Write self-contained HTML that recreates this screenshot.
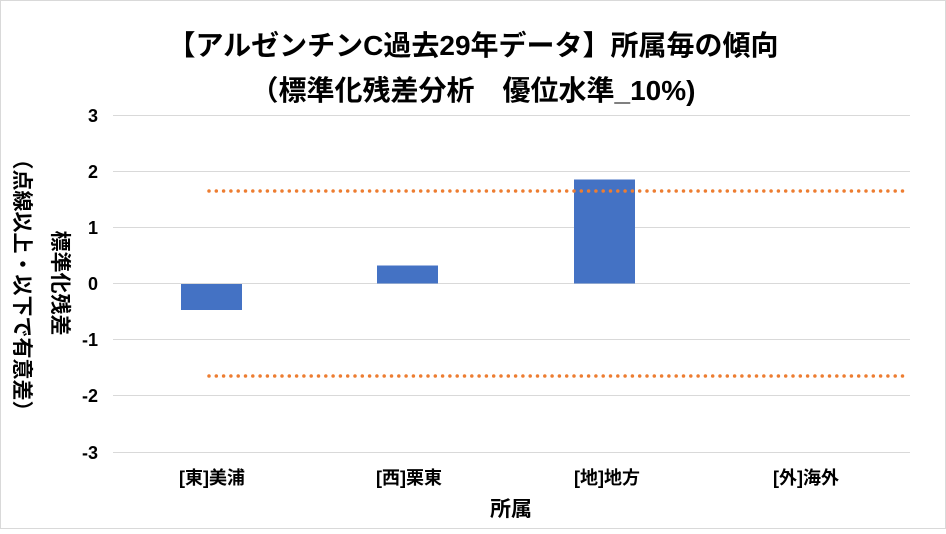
<!DOCTYPE html>
<html><head><meta charset="utf-8"><style>
body{margin:0;background:#fff}
svg text{font-family:"Liberation Sans","Noto Sans CJK JP",sans-serif;font-weight:bold;fill:#000}
</style></head><body>
<svg width="946" height="529" xmlns="http://www.w3.org/2000/svg">
<rect x="0.5" y="0.5" width="945" height="528" fill="#fff" stroke="#d9d9d9"/>
<text x="473" y="55" font-size="28" text-anchor="middle">【アルゼンチンC過去29年データ】所属毎の傾向</text>
<text x="473" y="100" font-size="28" text-anchor="middle">（標準化残差分析　優位水準_10%)</text>
<g stroke="#d9d9d9" stroke-width="1">
<line x1="113" x2="910" y1="115.5" y2="115.5"/>
<line x1="113" x2="910" y1="171.5" y2="171.5"/>
<line x1="113" x2="910" y1="227.5" y2="227.5"/>
<line x1="113" x2="910" y1="283.5" y2="283.5"/>
<line x1="113" x2="910" y1="339.5" y2="339.5"/>
<line x1="113" x2="910" y1="395.5" y2="395.5"/>
<line x1="113" x2="910" y1="452.5" y2="452.5"/>
</g>
<g font-size="18" text-anchor="end">
<text x="98" y="122">3</text><text x="98" y="178">2</text><text x="98" y="234">1</text>
<text x="98" y="290">0</text><text x="98" y="346">-1</text><text x="98" y="402">-2</text><text x="98" y="459">-3</text>
</g>
<g fill="#4472c4">
<rect x="181" y="284" width="61" height="26"/>
<rect x="377" y="265.5" width="61" height="18"/>
<rect x="574" y="179.5" width="61" height="104"/>
</g>
<g stroke="#ed7d31" stroke-width="3.5" stroke-dasharray="0,7.3" stroke-linecap="round">
<line x1="209" x2="907" y1="191" y2="191"/>
<line x1="209" x2="907" y1="376" y2="376"/>
</g>
<g font-size="18" text-anchor="middle">
<text x="212" y="484">[東]美浦</text><text x="409" y="484">[西]栗東</text>
<text x="607" y="484">[地]地方</text><text x="806" y="484">[外]海外</text>
</g>
<text x="511" y="516" font-size="21" text-anchor="middle">所属</text>
<text transform="translate(53,283) rotate(90)" font-size="21" text-anchor="middle">標準化残差</text>
<text transform="translate(15,285) rotate(90)" font-size="21" text-anchor="middle">（点線以上・以下で有意差）</text>
</svg>
</body></html>
